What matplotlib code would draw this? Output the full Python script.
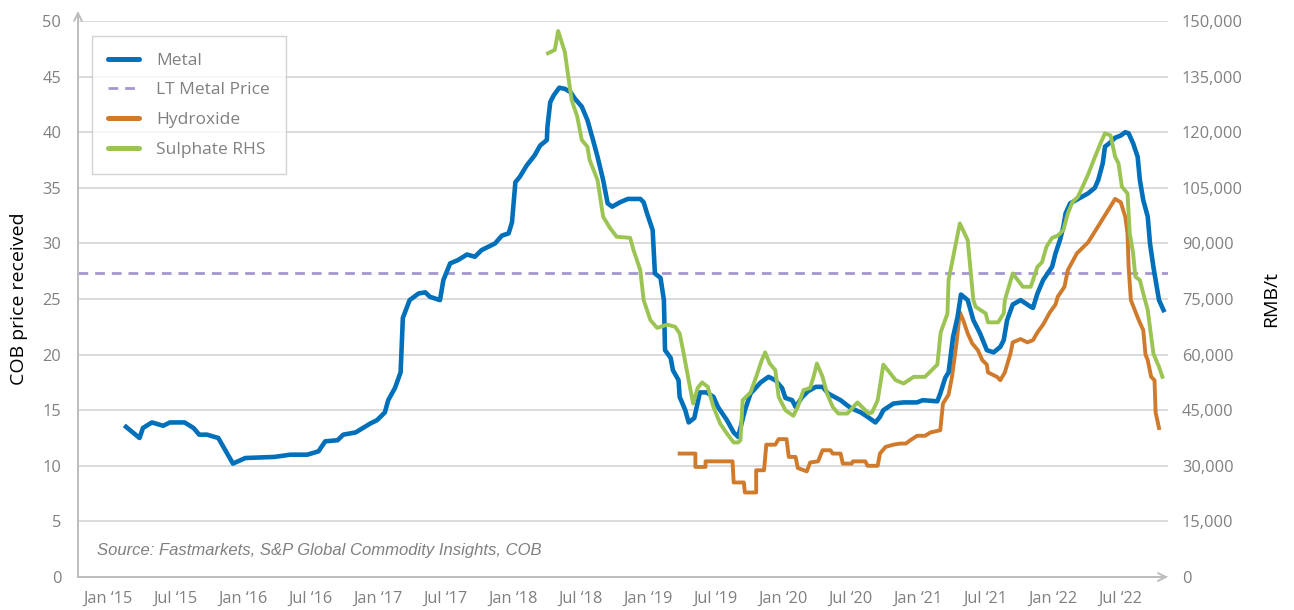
import matplotlib
matplotlib.use("Agg")
import matplotlib.pyplot as plt
from matplotlib.ticker import FuncFormatter, MultipleLocator

# ---------------- data (x = months since Jan 2015) ----------------
metal_month = [1.6, 2.8, 3.1, 3.9, 4.9, 5.5, 6.8, 7.6, 8.1, 8.8, 9.8, 11.1, 12.2, 14.8, 16.2,
               17.7, 18.7, 19.3, 20.4, 20.9, 22.0, 23.3, 23.9, 24.6, 24.9, 25.5, 26.0, 26.2,
               26.8, 27.6, 28.2, 28.6, 29.2, 29.5, 29.8, 30.4, 31.1, 31.9, 32.6, 33.2, 34.4,
               35.0, 35.6, 35.9, 36.2, 36.6, 37.2, 37.9, 38.4, 39.0, 39.05, 39.3, 39.6, 40.1,
               40.6, 41.1, 41.5, 42.1, 42.6, 43.1, 43.5, 44.0, 44.4, 44.8, 45.5, 46.2, 47.3,
               47.6, 47.9, 48.4, 48.6, 49.1, 49.4, 49.5, 50.0, 50.2, 50.7, 50.8, 51.3, 51.6,
               52.1, 52.6, 53.2, 53.8, 54.2, 55.0, 55.6, 56.0, 56.6, 57.1, 58.0, 58.7, 59.3,
               59.9, 60.2, 60.8, 61.1, 61.7, 62.2, 62.9, 63.5, 64.0, 65.1, 66.0, 66.9, 67.5,
               68.2, 68.6, 68.9, 69.8, 70.7, 71.9, 72.4, 73.7, 73.96, 74.4, 74.7, 75.1, 75.5,
               75.8, 76.4, 76.9, 77.5, 78.1, 78.7, 79.3, 79.6, 79.9, 80.4, 81.1, 82.0, 82.2,
               82.6, 83.1, 83.9, 84.2, 84.6, 84.9, 85.1, 85.5, 86.4, 87.1, 87.7, 88.0, 88.4,
               88.6, 89.1, 89.5, 90.0, 90.4, 90.7, 91.1, 91.5, 91.7, 92.0, 92.4, 92.6, 92.9,
               93.2, 93.4, 93.8]
metal_price = [13.5, 12.5, 13.4, 13.9, 13.6, 13.9, 13.9, 13.4, 12.8, 12.8, 12.5, 10.2, 10.7, 10.8, 11.0,
               11.0, 11.3, 12.2, 12.3, 12.8, 13.0, 13.8, 14.1, 14.8, 15.9, 17.0, 18.4, 23.3,
               24.9, 25.5, 25.6, 25.2, 25.0, 24.9, 26.7, 28.2, 28.5, 29.0, 28.8, 29.4, 30.0,
               30.7, 30.9, 31.9, 35.5, 36.0, 37.0, 37.9, 38.8, 39.3, 40.5, 42.7, 43.3, 44.0,
               43.9, 43.6, 43.0, 42.3, 41.1, 39.3, 37.8, 35.7, 33.6, 33.3, 33.7, 34.0, 34.0,
               33.7, 32.7, 31.2, 27.3, 26.9, 24.9, 20.4, 19.7, 18.6, 17.7, 16.2, 15.0, 13.9,
               14.3, 16.6, 16.6, 16.2, 15.3, 14.1, 13.0, 12.6, 15.0, 16.5, 17.5, 18.0, 17.7,
               17.0, 16.1, 15.9, 15.3, 16.2, 16.7, 17.1, 17.1, 16.5, 15.9, 15.2, 14.8, 14.4,
               13.9, 14.4, 15.0, 15.6, 15.7, 15.7, 15.9, 15.8, 16.5, 17.9, 18.4, 21.6, 23.4,
               25.4, 24.9, 23.1, 21.9, 20.4, 20.2, 20.7, 21.3, 23.1, 24.5, 24.9, 24.3, 24.2,
               25.5, 26.7, 27.9, 29.1, 30.3, 31.5, 32.7, 33.6, 34.1, 34.5, 35.0, 35.7, 37.2,
               38.7, 39.1, 39.5, 39.7, 40.0, 39.9, 39.0, 37.8, 35.7, 33.9, 32.4, 30.0, 27.9,
               26.1, 24.9, 24.0]

lt_metal_price = 27.3

hydroxide_month = [50.8, 52.2, 52.2, 53.1, 53.1, 55.5, 55.6, 56.5, 56.6, 57.6, 57.6, 58.3, 58.5,
                   59.3, 59.6, 60.3, 60.5, 61.1, 61.3, 62.1, 62.4, 63.1, 63.5, 64.2, 64.4, 65.1,
                   65.3, 66.1, 66.2, 67.3, 67.5, 68.4, 68.6, 69.1, 69.8, 70.4, 70.9, 71.3, 71.9,
                   72.6, 73.1, 73.96, 74.2, 74.7, 75.0, 75.4, 75.7, 76.0, 76.4, 76.8, 77.3, 77.7,
                   78.1, 78.2, 79.0, 79.3, 79.7, 80.2, 80.4, 81.1, 81.7, 82.2, 82.6, 83.1, 83.7,
                   84.2, 84.4, 85.0, 85.3, 86.1, 87.1, 87.6, 89.5, 90.0, 90.4, 90.6, 90.7, 90.9,
                   91.6, 92.0, 92.2, 92.4, 92.7, 93.0, 93.1, 93.4]
hydroxide_price = [11.1, 11.1, 9.9, 9.9, 10.4, 10.4, 8.5, 8.5, 7.6, 7.6, 9.6, 9.6, 11.9,
                   11.9, 12.4, 12.4, 10.8, 10.8, 9.8, 9.5, 10.3, 10.4, 11.4, 11.4, 11.1, 11.1,
                   10.2, 10.2, 10.4, 10.4, 10.0, 10.0, 11.1, 11.7, 11.9, 12.0, 12.0, 12.3, 12.7,
                   12.7, 13.0, 13.2, 15.6, 16.4, 18.0, 21.0, 23.8, 23.1, 21.9, 21.0, 20.4, 19.5,
                   19.1, 18.4, 18.0, 17.7, 18.4, 20.1, 21.1, 21.4, 21.1, 21.3, 22.0, 22.7, 23.8,
                   24.5, 25.2, 26.1, 27.6, 29.1, 30.1, 30.9, 34.0, 33.7, 32.4, 30.9, 27.9, 24.9,
                   23.1, 22.2, 20.0, 19.5, 18.0, 17.7, 14.8, 13.4]

sulphate_month = [39.1, 39.7, 40.0, 40.6, 40.9, 41.2, 41.7, 42.1, 42.6, 42.8, 43.5, 44.0, 44.6,
                  45.2, 46.4, 46.7, 47.3, 47.6, 48.2, 48.8, 49.7, 50.4, 50.8, 51.1, 51.6, 52.0,
                  52.4, 52.8, 53.3, 53.8, 54.4, 55.0, 55.6, 56.0, 56.2, 56.4, 57.1, 57.6, 58.1,
                  58.4, 58.8, 59.3, 59.6, 60.2, 60.9, 61.3, 61.8, 62.4, 62.7, 63.0, 63.5, 63.9,
                  64.4, 64.9, 65.7, 66.6, 67.0, 67.6, 67.9, 68.4, 68.9, 70.0, 70.7, 71.6, 72.6,
                  73.7, 74.0, 74.6, 74.7, 75.7, 76.4, 76.9, 77.1, 78.0, 78.2, 79.1, 79.6, 79.7,
                  80.4, 81.3, 82.0, 82.6, 83.0, 83.4, 83.9, 84.4, 84.9, 85.3, 85.7, 86.2, 86.7,
                  87.1, 87.6, 88.2, 88.6, 89.1, 89.5, 89.8, 90.1, 90.6, 90.8, 91.1, 91.3, 91.7,
                  92.0, 92.4, 92.9, 93.4, 93.7]
sulphate_rmb = [141300, 142200, 147300, 141600, 135000, 128700, 124200, 117900, 116100, 112500,
                107100, 97200, 94200, 91800, 91500, 88200, 82800, 74700, 69300, 67200, 68100,
                67500, 65700, 61200, 53100, 46800, 51000, 52500, 51300, 45900, 41400, 38700,
                36300, 36300, 36900, 47700, 49800, 54000, 58500, 60600, 57600, 55800, 48600,
                45000, 43500, 45900, 50400, 51000, 54000, 57600, 54000, 49500, 45900, 44100,
                44100, 47100, 45900, 44100, 44400, 47700, 57300, 53100, 52200, 54000, 54000,
                57300, 66000, 71100, 80100, 95400, 90900, 74700, 72900, 71100, 68700, 68700,
                71100, 74700, 81900, 78300, 78300, 83700, 84900, 89100, 91500, 92100, 93600,
                98100, 101100, 102600, 105900, 108600, 112500, 117000, 119700, 119100, 113400,
                111600, 105300, 103500, 92700, 87300, 81000, 80100, 76500, 72000, 60300, 56700,
                54000]

tick_months = [0, 6, 12, 18, 24, 30, 36, 42, 48, 54, 60, 66, 72, 78, 84, 90]
tick_labels = ["Jan \u201815", "Jul \u201815", "Jan \u201816", "Jul \u201816", "Jan \u201817",
               "Jul \u201817", "Jan \u201818", "Jul \u201818", "Jan \u201819", "Jul \u201819",
               "Jan \u201820", "Jul \u201820", "Jan \u201821", "Jul \u201821", "Jan \u201822",
               "Jul \u201822"]

# ---------------- styling ----------------
BLUE = "#0070BA"
ORANGE = "#D07A2C"
GREEN = "#9BC453"
PURPLE = "#A597CE"
GRAY_TXT = "#808080"
GRID = "#D4D4D4"
AXIS = "#BDBDBD"

plt.rcParams["font.family"] = ["Open Sans", "DejaVu Sans"]

fig = plt.figure(figsize=(12.94, 6.10), dpi=100)
ax = fig.add_axes([78 / 1294, 33 / 610, 1090 / 1294, 556 / 610])
ax2 = ax.twinx()

ax.set_xlim(-2.67, 94.2)
ax.set_ylim(0, 50)
ax2.set_ylim(0, 150000)

ax.yaxis.set_major_locator(MultipleLocator(5))
ax2.yaxis.set_major_locator(MultipleLocator(15000))
ax2.yaxis.set_major_formatter(FuncFormatter(lambda v, p: f"{int(v):,}"))
ax.set_xticks(tick_months)
ax.set_xticklabels(tick_labels)

ax.grid(axis="y", color=GRID, lw=1.2)
ax.set_axisbelow(True)
for s in ["top", "right", "bottom", "left"]:
    ax.spines[s].set_visible(False)
for s in ax2.spines.values():
    s.set_visible(False)

ax.tick_params(axis="both", length=0, labelsize=11.8, labelcolor=GRAY_TXT)
ax.tick_params(axis="x", pad=10)
ax.tick_params(axis="y", pad=12)
ax2.tick_params(axis="y", length=0, labelsize=11.8, labelcolor=GRAY_TXT, pad=10)

# axis arrows
ax.annotate("", xy=(0, 1.018), xytext=(0, 0), xycoords="axes fraction",
            arrowprops=dict(arrowstyle="->", color=AXIS, lw=1.4, shrinkA=0, shrinkB=0,
                            mutation_scale=14))
ax.annotate("", xy=(1.0, 0), xytext=(0, 0), xycoords="axes fraction",
            arrowprops=dict(arrowstyle="->", color=AXIS, lw=1.4, shrinkA=0, shrinkB=0,
                            mutation_scale=14))

# series
l_metal, = ax.plot(metal_month, metal_price, color=BLUE, lw=3.3, solid_joinstyle="round",
                   label="Metal", zorder=4)
l_lt = ax.axhline(lt_metal_price, color=PURPLE, lw=2.0, ls=(0, (3.5, 2.5)),
                  label="LT Metal Price", zorder=2)
l_hyd, = ax.plot(hydroxide_month, hydroxide_price, color=ORANGE, lw=2.8,
                 solid_joinstyle="round", label="Hydroxide", zorder=3)
l_sul, = ax2.plot(sulphate_month, sulphate_rmb, color=GREEN, lw=2.8,
                  solid_joinstyle="round", label="Sulphate RHS", zorder=3)

ax.set_ylabel("COB price received", fontsize=14, color="black", labelpad=10)
ax2.set_ylabel("RMB/t", fontsize=14, color="black", labelpad=14)

leg = ax.legend(handles=[l_metal, l_lt, l_hyd, l_sul], loc="upper left",
                bbox_to_anchor=(0.0128, 0.973), fontsize=12.5, frameon=True, fancybox=False,
                edgecolor="#C8C8C8", handlelength=1.75, handletextpad=1.0, labelspacing=0.78,
                borderpad=0.95, borderaxespad=0)
leg.get_frame().set_linewidth(1.0)
for t in leg.get_texts():
    t.set_color(GRAY_TXT)
for i, ln in enumerate(leg.get_lines()):
    ln.set_solid_capstyle("round")
    if i != 1:
        ln.set_linewidth(3.6)
leg.set_zorder(10)

ax.text(0.0174, 0.047, "Source: Fastmarkets, S&P Global Commodity Insights, COB",
        transform=ax.transAxes, fontsize=12, style="italic", color=GRAY_TXT,
        family=["Liberation Sans", "DejaVu Sans"], va="center", ha="left")

fig.savefig("out.png", dpi=100)
